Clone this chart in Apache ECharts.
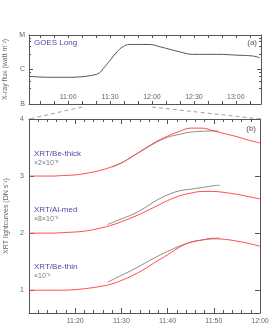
<!DOCTYPE html>
<html><head><meta charset="utf-8">
<script src="https://cdn.jsdelivr.net/npm/echarts@6/dist/echarts.min.js"></script>
<style>html,body{margin:0;padding:0;background:#fff}#c{width:271px;height:329px}</style>
</head><body><div id="c"></div>
<script>
// ---- data ----
const goesTimes = ['10:32','10:47','10:59','11:08','11:16','11:22','11:25','11:30','11:35','11:39','11:44','11:58','12:06','12:20','12:29','12:46','13:03','13:12','13:17'];
const goesFlux = [6.35e-7,5.94e-7,5.94e-7,6.1e-7,6.67e-7,7.8e-7,1.05e-6,1.84e-6,3.24e-6,4.53e-6,5.32e-6,5.32e-6,4.53e-6,3.24e-6,2.75e-6,2.75e-6,2.58e-6,2.46e-6,2.21e-6];
const goesTickLabels = ['11:00','11:30','12:00','12:30','13:00'];
const goesClassLabels = {'-7':'B','-6':'C','-5':'M'};

const modelTimes = ['11:10:00','11:12:30','11:15:00','11:17:30','11:20:00','11:22:30','11:25:00','11:27:30','11:30:00','11:32:30','11:35:00','11:37:30','11:40:00','11:42:30','11:45:00','11:47:30','11:50:00','11:52:30','11:55:00','11:57:30','12:00:00'];
const beThickModel = [3.00,3.00,3.00,3.01,3.02,3.05,3.09,3.15,3.23,3.35,3.48,3.60,3.70,3.78,3.84,3.84,3.79,3.74,3.69,3.63,3.58];
const alMedModel   = [2.00,2.00,2.00,2.01,2.02,2.04,2.08,2.13,2.20,2.28,2.37,2.47,2.57,2.65,2.70,2.73,2.73,2.71,2.68,2.64,2.60];
const beThinModel  = [1.00,1.00,1.00,1.00,1.01,1.03,1.06,1.10,1.17,1.26,1.37,1.50,1.62,1.75,1.84,1.88,1.90,1.89,1.86,1.82,1.77];

const beThickObsTimes = ['11:28:00','11:30:00','11:32:30','11:35:00','11:37:30','11:40:00','11:42:30','11:45:00','11:47:30','11:50:00','11:51:00'];
const beThickObs = [3.16,3.23,3.35,3.47,3.59,3.68,3.73,3.77,3.785,3.79,3.79];
const obsTimes = ['11:27:00','11:30:00','11:32:30','11:35:00','11:37:30','11:40:00','11:42:30','11:45:00','11:47:30','11:50:00','11:51:18'];
const alMedObs = [2.15,2.25,2.33,2.44,2.57,2.67,2.74,2.77,2.80,2.83,2.84];
const beThinObs = [1.14,1.26,1.36,1.47,1.58,1.68,1.77,1.84,1.88,1.91,1.91];

const xrtTickLabels = ['11:20','11:30','11:40','11:50','12:00'];
const xrtYTicks = [1,2,3,4];

// ---- helpers ----
function toMin(s){const p=s.split(':').map(Number);return p[0]*60+p[1]+(p[2]||0)/60;}
function fmt(v){const h=Math.floor(v/60), m=Math.round(v-h*60);return h+':'+(m<10?'0':'')+m;}
function pairs(ts,vs){return ts.map((t,i)=>[toMin(t),vs[i]]);}

const FONT='Liberation Sans';
const lab={fontSize:7,color:'#666',fontFamily:FONT};
const axLine={show:true,lineStyle:{color:'#555',width:1}};

const chart=echarts.init(document.getElementById('c'),null,{renderer:'canvas'});
const topMin=toMin('10:32'), topMax=toMin('13:18');
const botMin=toMin('11:10'), botMax=toMin('12:00');
const topTicks=goesTickLabels.map(toMin);
const topMinor=[];for(let v=toMin('10:40');v<=topMax;v+=10)topMinor.push(v);

const redLine={color:'#ff4a4a',width:1};
const grayLine={color:'#8a8a8a',width:1};

const option={
  animation:false,
  backgroundColor:'#fff',
  grid:[{left:29,right:10,top:35,height:69,containLabel:false,outerBoundsMode:'none'},
        {left:29,right:11,top:119,bottom:16,containLabel:false,outerBoundsMode:'none'}],
  xAxis:[
    {gridIndex:0,type:'value',min:topMin,max:topMax,position:'bottom',axisLine:axLine,splitLine:{show:false},
     axisTick:{show:true,inside:true,length:3,customValues:topMinor,lineStyle:{color:'#555'}},
     axisLabel:Object.assign({inside:true,margin:3,customValues:topTicks,formatter:fmt},lab)},
    {gridIndex:0,type:'value',min:topMin,max:topMax,position:'top',axisLine:axLine,splitLine:{show:false},
     axisTick:{show:true,inside:true,length:3,customValues:topMinor,lineStyle:{color:'#555'}},axisLabel:{show:false}},
    {gridIndex:1,type:'value',min:botMin,max:botMax,interval:10,position:'bottom',axisLine:axLine,splitLine:{show:false},
     axisTick:{show:true,inside:true,length:5,lineStyle:{color:'#555'}},
     minorTick:{show:true,splitNumber:5,length:3,lineStyle:{color:'#555'}},
     axisLabel:Object.assign({margin:5,formatter:v=>xrtTickLabels.includes(fmt(v))?fmt(v):'',showMinLabel:false},lab)},
    {gridIndex:1,type:'value',min:botMin,max:botMax,interval:10,position:'top',axisLine:axLine,splitLine:{show:false},
     axisTick:{show:true,inside:true,length:5,lineStyle:{color:'#555'}},
     minorTick:{show:true,splitNumber:5,length:3,lineStyle:{color:'#555'}},axisLabel:{show:false}}
  ],
  yAxis:[
    {gridIndex:0,type:'log',logBase:10,min:1e-7,max:1e-5,position:'left',axisLine:axLine,splitLine:{show:false},
     axisTick:{show:true,inside:true,length:4,lineStyle:{color:'#555'}},
     minorTick:{show:true,splitNumber:5,length:2,lineStyle:{color:'#555'}},
     axisLabel:Object.assign({margin:4,formatter:v=>goesClassLabels[String(Math.round(Math.log10(v)))]||''},lab),
     name:'X-ray flux (watt m\u207B\u00B2)',nameLocation:'middle',nameGap:9,nameRotate:90,
     nameTextStyle:{fontSize:7,color:'#666',fontFamily:FONT}},
    {gridIndex:0,type:'log',logBase:10,min:1e-7,max:1e-5,position:'right',axisLine:axLine,splitLine:{show:false},
     axisTick:{show:true,inside:true,length:4,lineStyle:{color:'#555'}},
     minorTick:{show:true,splitNumber:5,length:2,lineStyle:{color:'#555'}},axisLabel:{show:false}},
    {gridIndex:1,type:'value',min:0.6,max:4,position:'left',axisLine:axLine,splitLine:{show:false},
     axisTick:{show:true,inside:true,length:5,customValues:xrtYTicks,lineStyle:{color:'#555'}},
     axisLabel:Object.assign({margin:5,customValues:xrtYTicks,formatter:v=>String(v)},lab),
     name:'XRT lightcurves (DN s\u207B\u00B9)',nameLocation:'middle',nameGap:9,nameRotate:90,
     nameTextStyle:{fontSize:7,color:'#666',fontFamily:FONT}},
    {gridIndex:1,type:'value',min:0.6,max:4,position:'right',axisLine:axLine,splitLine:{show:false},
     axisTick:{show:true,inside:true,length:5,customValues:xrtYTicks,lineStyle:{color:'#555'}},axisLabel:{show:false}}
  ],
  series:[
    {type:'line',xAxisIndex:0,yAxisIndex:0,data:pairs(goesTimes,goesFlux),showSymbol:false,smooth:0.4,lineStyle:{color:'#555',width:1}},
    {type:'line',xAxisIndex:2,yAxisIndex:2,data:pairs(modelTimes,beThickModel),showSymbol:false,smooth:0.4,lineStyle:redLine,z:3},
    {type:'line',xAxisIndex:2,yAxisIndex:2,data:pairs(modelTimes,alMedModel),showSymbol:false,smooth:0.4,lineStyle:redLine,z:3},
    {type:'line',xAxisIndex:2,yAxisIndex:2,data:pairs(modelTimes,beThinModel),showSymbol:false,smooth:0.4,lineStyle:redLine,z:3},
    {type:'line',xAxisIndex:2,yAxisIndex:2,data:pairs(beThickObsTimes,beThickObs),showSymbol:false,smooth:0.4,lineStyle:grayLine,z:2},
    {type:'line',xAxisIndex:2,yAxisIndex:2,data:pairs(obsTimes,alMedObs),showSymbol:false,smooth:0.4,lineStyle:grayLine,z:2},
    {type:'line',xAxisIndex:2,yAxisIndex:2,data:pairs(obsTimes,beThinObs),showSymbol:false,smooth:0.4,lineStyle:grayLine,z:2}
  ]
};
chart.setOption(option);

// decorations: zoom connector lines + annotations
const a1=chart.convertToPixel({gridIndex:0},[botMin,1e-7]);
const a2=chart.convertToPixel({gridIndex:0},[botMax,1e-7]);
const b1=chart.convertToPixel({gridIndex:1},[botMin,4]);
const b2=chart.convertToPixel({gridIndex:1},[botMax,4]);
const dash={stroke:'#888',lineWidth:0.8,lineDash:[4,3]};
const blue='#4a4aa8';
const tStyle=(txt,x,y,col,size,align)=>({type:'text',x:x,y:y,style:{text:txt,fill:col,font:size+'px "'+FONT+'"',textAlign:align||'left',textVerticalAlign:'middle'},z:10});
chart.setOption({graphic:[
  {type:'line',shape:{x1:a1[0],y1:a1[1]+3,x2:b1[0],y2:b1[1]},style:dash,silent:true},
  {type:'line',shape:{x1:a2[0],y1:a2[1]+3,x2:b2[0],y2:b2[1]},style:dash,silent:true},
  tStyle('GOES Long',34,43,blue,8),
  tStyle('(a)',257,43,'#555',8,'right'),
  tStyle('(b)',256,129,'#555',8,'right'),
  tStyle('XRT/Be-thick',34,154,blue,8),
  tStyle('\u00D72\u00D710\u207B\u2075',34,163.5,'#777',7),
  tStyle('XRT/Al-med',34,210,blue,8),
  tStyle('\u00D78\u00D710\u207B\u2078',34,219.5,'#777',7),
  tStyle('XRT/Be-thin',34,267,blue,8),
  tStyle('\u00D710\u207B\u2076',34,276.5,'#777',7)
]});
</script></body></html>
